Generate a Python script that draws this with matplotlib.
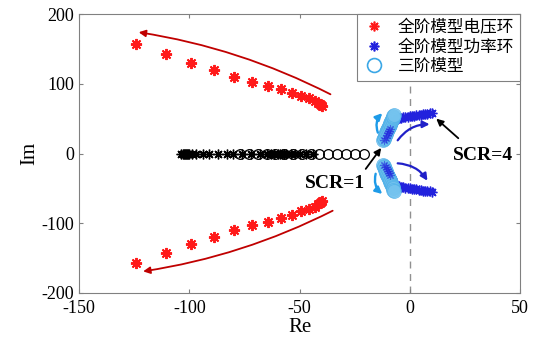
import matplotlib
matplotlib.use("Agg")
import matplotlib.pyplot as plt
from matplotlib.patches import FancyArrowPatch
from matplotlib.lines import Line2D

plt.rcParams['font.family'] = ['Liberation Serif', 'Noto Sans CJK SC']
plt.rcParams['axes.unicode_minus'] = False

# ---- data ----
red_re = [-124.3, -110.7, -99.3, -88.9, -79.8, -71.7, -64.4, -58.5, -53.5, -49.4,
          -45.8, -43.0, -41.5, -40.8, -40.2, -39.8]
red_im_up = [157.7, 143.0, 130.0, 120.0, 110.0, 103.0, 97.5, 92.0, 87.5, 83.0,
             80.0, 76.0, 73.0, 71.0, 69.5, 68.5]
red_im_dn = [-v for v in red_im_up]

blk_star_re = [-104, -103, -102.5, -102, -101.5, -101, -100.5, -100, -99, -97, -94,
               -91, -87, -83, -80, -76, -72, -68, -65, -63, -61.5, -60, -59, -58,
               -57, -56, -54, -52, -50, -47, -44]
blk_circ_re = [-77, -73, -69, -65, -61, -57, -53, -49, -45, -41, -37, -33, -29, -25, -21]

blob_re_up = [-12.0, -11.8, -11.6, -11.4, -11.2, -11.0, -10.8, -10.6, -10.4, -10.2, -10.0,
              -9.8, -9.6, -9.4, -9.2, -9.0, -8.8, -8.6, -8.4, -8.2, -8.0, -7.8, -7.6,
              -7.4, -7.2]
blob_im_up = [20, 21.5, 23, 24.5, 26, 27.5, 29, 30.5, 32, 33.5, 35, 36.5, 38, 39.5,
              41, 42.5, 44, 45.5, 47, 48.5, 50, 51.5, 53, 54.5, 56]
blob_re_dn = [-12.0, -11.8, -11.6, -11.4, -11.2, -11.0, -10.8, -10.6, -10.4, -10.2, -10.0,
              -9.8, -9.6, -9.4, -9.2, -9.0, -8.8, -8.6, -8.4, -8.2, -8.0, -7.8, -7.6,
              -7.4, -7.2]
blob_im_dn = [-17, -18.5, -20, -21.5, -23, -24.5, -26, -27.5, -29, -30.5, -32, -33.5,
              -35, -36.5, -38, -39.5, -41, -42.5, -44, -45.5, -47, -48.5, -50, -52, -54]

blue_re = [-11.5, -11.0, -10.5, -10.0, -9.5, -9.0, -8.5, -8.0, -7.5, -7.0, -6.0, -5.0,
           -4.0, -3.0, -2.0, -1.0, 0.0, 1.0, 2.0, 3.0, 4.0, 5.0, 6.0, 7.0, 8.0, 9.0, 10.0]
blue_im_up = [20, 23, 26, 29, 32, 35, 38, 41, 44, 47, 50, 51, 51.5, 52, 52.5, 53,
              53.5, 54, 54.5, 55, 55.5, 56, 56.5, 57, 57, 57.5, 58]
blue_im_dn = [-16, -19, -22, -25, -28, -31, -34, -37, -40, -43, -46, -47, -48, -48.5,
              -49, -49.5, -50, -50.5, -51, -51.5, -52, -52.5, -53, -53.5, -54, -54, -54.5]

legend_labels = ['全阶模型电压环', '全阶模型功率环', '三阶模型']
xticks = [-150, -100, -50, 0, 50]
yticks = [-200, -100, 0, 100, 200]

RED = '#ff1a1a'
BLUE = '#2222dd'
LBLUE = '#3ba7e6'
AST = (8, 2, 0)

fig = plt.figure(figsize=(5.35, 3.53), dpi=100)
ax = fig.add_axes([0.148, 0.170, 0.824, 0.790])

ax.axvline(0, color='#909090', ls=(0, (5, 4)), lw=1.0, zorder=0)

ax.plot(blk_star_re, [0] * len(blk_star_re), ls='none', marker=AST, ms=7,
        mec='black', mew=1.0, zorder=2)
ax.plot(blk_circ_re, [0] * len(blk_circ_re), ls='none', marker='o', ms=7,
        mfc='none', mec='black', mew=0.9, zorder=2)

ax.plot(red_re, red_im_up, ls='none', marker=AST, ms=8, mec=RED, mew=1.4, zorder=3)
ax.plot(red_re, red_im_dn, ls='none', marker=AST, ms=8, mec=RED, mew=1.4, zorder=3)

ax.plot(blue_re, blue_im_up, ls='none', marker=AST, ms=7, mec=BLUE, mew=1.0, zorder=3)
ax.plot(blue_re, blue_im_dn, ls='none', marker=AST, ms=7, mec=BLUE, mew=1.0, zorder=3)
ax.plot(blob_re_up, blob_im_up, ls='none', marker='o', ms=10, mfc='#74c3ef',
        mec='#4fb0e8', mew=0.6, alpha=0.75, zorder=4)
ax.plot(blob_re_dn, blob_im_dn, ls='none', marker='o', ms=10, mfc='#74c3ef',
        mec='#4fb0e8', mew=0.6, alpha=0.75, zorder=4)
# stars near the real axis show through the blob
ax.plot(blue_re[:6], blue_im_up[:6], ls='none', marker=AST, ms=6, mec=BLUE, mew=0.8,
        alpha=0.55, zorder=4.5)
ax.plot(blue_re[:6], blue_im_dn[:6], ls='none', marker=AST, ms=6, mec=BLUE, mew=0.8,
        alpha=0.55, zorder=4.5)

def arrow(p0, p1, color, rad, lw=1.4, ms=10):
    a = FancyArrowPatch(p0, p1, connectionstyle=f"arc3,rad={rad}",
                        arrowstyle='-|>', mutation_scale=ms, color=color, lw=lw,
                        shrinkA=0, shrinkB=0, zorder=5)
    ax.add_patch(a)

arrow((-36, 85), (-123, 174), '#c00000', 0.08, lw=1.3)
arrow((-35, -82), (-121, -169), '#c00000', -0.08, lw=1.3)
arrow((-14.5, 30), (-12.5, 58), '#1e9be8', -0.3, lw=1.7)
arrow((-15.5, -29), (-12.5, -58), '#1e9be8', 0.3, lw=1.7)
arrow((-5.5, 19), (9, 42), '#2020c8', -0.25, lw=1.6)
arrow((-5.5, -14), (8, -39), '#2020c8', -0.25, lw=1.6)
arrow((-20, -22), (-13, 8), 'black', 0, lw=1.3)
arrow((22, 22), (12, 50), 'black', 0, lw=1.3)

ax.text(-34, -43, 'SCR=1', fontsize=14, fontweight='bold', ha='center', va='center')
ax.text(33, -3, 'SCR=4', fontsize=14, fontweight='bold', ha='center', va='center')

ax.set_xlim(-150, 50)
ax.set_ylim(-200, 200)
ax.set_xticks(xticks)
ax.set_yticks(yticks)
ax.tick_params(direction='in', length=3, labelsize=13, top=True, right=True,
               color='#808080')
ax.tick_params(axis='x', pad=5)
for s in ax.spines.values():
    s.set_color('#808080')
    s.set_linewidth(0.8)
ax.set_xlabel('Re', fontsize=15, labelpad=1)
ax.set_ylabel('Im', fontsize=15, labelpad=2)

handles = [
    Line2D([], [], ls='none', marker=AST, ms=7, mec=RED, mew=1.2),
    Line2D([], [], ls='none', marker=AST, ms=7, mec=BLUE, mew=1.2),
    Line2D([], [], ls='none', marker='o', ms=10, mfc='none', mec=LBLUE, mew=1.2),
]
leg = ax.legend(handles, legend_labels, loc='upper right', fontsize=12,
                fancybox=False, framealpha=1, edgecolor='#808080',
                handlelength=1.3, handletextpad=0.8, borderpad=0.35,
                labelspacing=0.2, borderaxespad=0.0)
leg.get_frame().set_linewidth(0.8)

fig.savefig('out.png', dpi=100)
